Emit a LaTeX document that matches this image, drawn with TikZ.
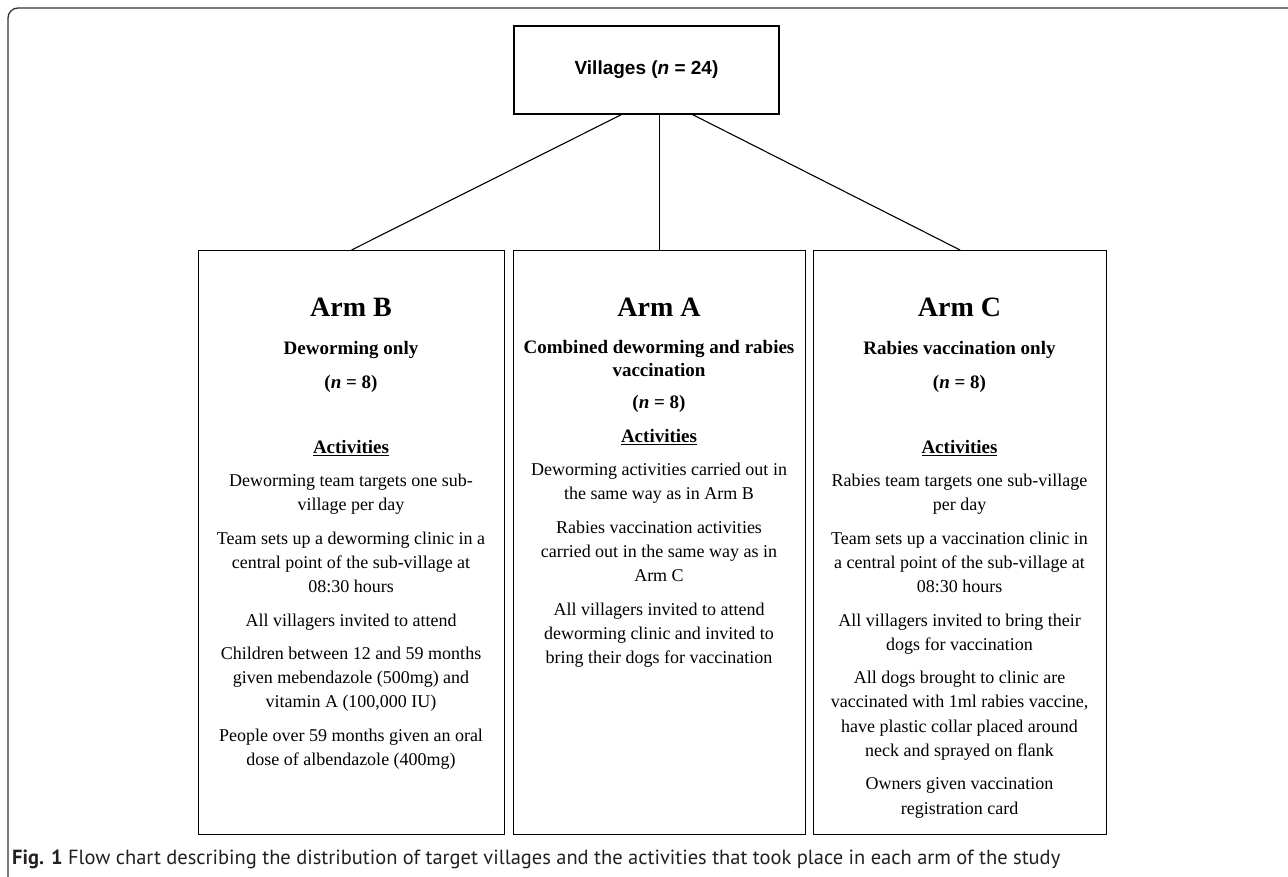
\documentclass[tikz,border=0pt]{standalone}
\usepackage{fontspec}
\usepackage{graphicx}
\setmainfont{Liberation Serif}
\newfontfamily\arialfont{Liberation Sans}
\newfontfamily\capfont{PT Sans}
\definecolor{captext}{HTML}{231F20}
\definecolor{framecol}{HTML}{333333}
\newcommand{\fl}{\rule{0pt}{13pt}}
\newcommand{\fls}{\rule{0pt}{14pt}}
\begin{document}
\begin{tikzpicture}[x=1pt,y=-1pt,
  box/.style={draw=black, line width=1.1pt, inner sep=0pt},
  armtitle/.style={font=\fontsize{28}{32}\selectfont\bfseries, anchor=base, inner sep=0pt},
  armsub/.style={font=\fontsize{19}{23}\selectfont\bfseries, align=center, anchor=north, inner sep=0pt},
  body/.style={font=\fontsize{18}{24.3}\selectfont, align=center, anchor=north, inner sep=0pt},
  link/.style={draw=black, line width=1.1pt}]
\useasboundingbox (0,0) rectangle (1288,877);
% outer frame
\draw[framecol, line width=1.3pt, rounded corners=10pt] (8,882) -- (8,8) -- (1300,8);
% villages
\node[box, minimum width=265pt, minimum height=88pt, font=\arialfont\bfseries\fontsize{19}{22}\selectfont] (vil) at (646.5,70) {Villages (\textit{n} = 24)};
% arm boxes
\node[box, minimum width=306pt, minimum height=584pt, anchor=north west] (armB) at (198,250) {};
\node[box, minimum width=292pt, minimum height=584pt, anchor=north west] (armA) at (513,250) {};
\node[box, minimum width=293pt, minimum height=584pt, anchor=north west] (armC) at (813,250) {};
% connectors
\draw[link] ([xshift=-25pt]vil.south) -- (armB.north);
\draw[link] (vil.south -| armA.north) -- (armA.north);
\draw[link] ([xshift=46pt]vil.south) -- (armC.north);
% Arm B
\node[armtitle] (tB) at (351,317) {Arm B};
\node[armsub] (sB) at (351,340) {\fls Deworming only};
\node[armsub] (nB) at (351,374) {\fls(\textit{n} = 8)};
\node[armsub] (aB) at (351,439) {\fls\underline{Activities}};
\node[body] (b1) at (351,473.3) {\fl Deworming team targets one sub-\\village per day};
\node[body] (b2) at (351,530.9) {\fl Team sets up a deworming clinic in a\\central point of the sub-village at\\08:30 hours};
\node[body] (b3) at (351,612.8) {\fl All villagers invited to attend};
\node[body] (b4) at (351,646.1) {\fl Children between 12 and 59 months\\given mebendazole (500mg) and\\vitamin A (100,000 IU)};
\node[body] (b5) at (351,728.0) {\fl People over 59 months given an oral\\dose of albendazole (400mg)};
% Arm A
\node[armtitle] (tA) at (659,317) {Arm A};
\node[armsub] (sA) at (659,339) {\fls Combined deworming and rabies\\vaccination};
\node[armsub] (nA) at (659,394) {\fls(\textit{n} = 8)};
\node[armsub] (aA) at (659,428) {\fls\underline{Activities}};
\node[body] (a1) at (659,462.3) {\fl Deworming activities carried out in\\the same way as in Arm B};
\node[body] (a2) at (659,519.9) {\fl Rabies vaccination activities\\carried out in the same way as in\\Arm C};
\node[body] (a3) at (659,601.8) {\fl All villagers invited to attend\\deworming clinic and invited to\\bring their dogs for vaccination};
% Arm C
\node[armtitle] (tC) at (959.5,317) {Arm C};
\node[armsub] (sC) at (959.5,340) {\fls Rabies vaccination only};
\node[armsub] (nC) at (959.5,374) {\fls(\textit{n} = 8)};
\node[armsub] (aC) at (959.5,439) {\fls\underline{Activities}};
\node[body] (c1) at (959.5,473.3) {\fl Rabies team targets one sub-village\\per day};
\node[body] (c2) at (959.5,530.9) {\fl Team sets up a vaccination clinic in\\a central point of the sub-village at\\08:30 hours};
\node[body] (c3) at (959.5,612.8) {\fl All villagers invited to bring their\\dogs for vaccination};
\node[body] (c4) at (959.5,670.4) {\fl All dogs brought to clinic are\\vaccinated with 1ml rabies vaccine,\\have plastic collar placed around\\neck and sprayed on flank};
\node[body] (c5) at (959.5,776.6) {\fl Owners given vaccination\\registration card};
% caption
\node[anchor=base west, inner sep=0pt] (cap) at (12,864) {\resizebox{1048pt}{!}{\capfont\fontsize{18}{21}\selectfont\color{captext}\textbf{Fig. 1} Flow chart describing the distribution of target villages and the activities that took place in each arm of the study}};
\end{tikzpicture}
\end{document}
